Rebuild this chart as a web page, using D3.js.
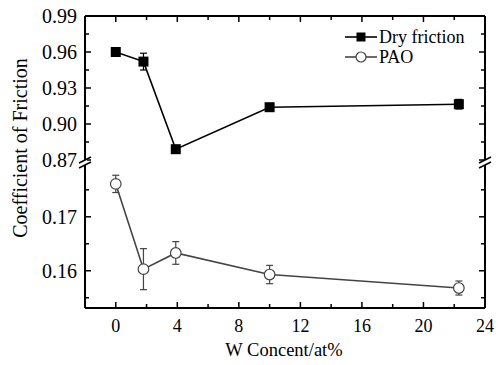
<!DOCTYPE html>
<html>
<head>
<meta charset="utf-8">
<script src="https://cdn.jsdelivr.net/npm/d3@7.9.0/dist/d3.min.js"></script>
<style>
  body { margin: 0; background: #fff; }
  svg { display: block; font-family: "Liberation Serif", "Times New Roman", serif; }
</style>
</head>
<body>
<div id="chart"></div>
<script>
// data
const wConc = [0, 1.8, 3.9, 10, 22.3];
const dryCof = [0.960, 0.952, 0.879, 0.914, 0.9165];
const dryErr = [0.001, 0.007, 0.001, 0.002, 0.004];
const paoCof = [0.1761, 0.1603, 0.1633, 0.1593, 0.1568];
const paoErr = [0.0016, 0.0038, 0.0021, 0.0017, 0.0013];

const xTicks = [0, 4, 8, 12, 16, 20, 24];
const upperTicks = [0.87, 0.90, 0.93, 0.96, 0.99];
const lowerTicks = [0.16, 0.17];
const seriesNames = ['Dry friction', 'PAO'];

const W = 501, H = 365;
const plotL = 85, plotR = 485, plotT = 16, plotB = 308;
const breakY = 162.5;

const svg = d3.select('#chart').append('svg')
  .attr('width', W).attr('height', H);

const x = d3.scaleLinear().domain([-2, 24]).range([plotL, plotR]);
const yUp = d3.scaleLinear().domain([0.87, 0.99]).range([160, plotT]);
const yLo = d3.scaleLinear().domain([0.1531, 0.1796]).range([plotB, 165]);

const dry = wConc.map((w, i) => ({ x: w, y: dryCof[i], e: dryErr[i] }));
const pao = wConc.map((w, i) => ({ x: w, y: paoCof[i], e: paoErr[i] }));

// frame
const frame = svg.append('g').attr('stroke', '#000').attr('stroke-width', 2);
frame.append('line').attr('x1', plotL).attr('x2', plotR).attr('y1', plotT).attr('y2', plotT);
frame.append('line').attr('x1', plotL).attr('x2', plotR).attr('y1', plotB).attr('y2', plotB);
frame.append('line').attr('x1', plotL).attr('x2', plotL).attr('y1', plotT).attr('y2', plotB);
frame.append('line').attr('x1', plotR).attr('x2', plotR).attr('y1', plotT).attr('y2', plotB);

// ticks (inward)
const tickG = svg.append('g').attr('stroke', '#000').attr('stroke-width', 1.5);
const xMinor = d3.range(-2, 24.01, 2);
xMinor.forEach(v => {
  const len = xTicks.includes(v) ? 6 : 4;
  tickG.append('line').attr('x1', x(v)).attr('x2', x(v)).attr('y1', plotB).attr('y2', plotB - len);
  tickG.append('line').attr('x1', x(v)).attr('x2', x(v)).attr('y1', plotT).attr('y2', plotT + len);
});
const upMinor = d3.range(0.87, 0.9901, 0.015).map(v => +v.toFixed(3));
upMinor.forEach(v => {
  const len = upperTicks.some(t => Math.abs(t - v) < 1e-6) ? 6 : 4;
  tickG.append('line').attr('x1', plotL).attr('x2', plotL + len).attr('y1', yUp(v)).attr('y2', yUp(v));
  tickG.append('line').attr('x1', plotR).attr('x2', plotR - len).attr('y1', yUp(v)).attr('y2', yUp(v));
});
const loMinor = [0.155, 0.16, 0.165, 0.17, 0.175];
loMinor.forEach(v => {
  const len = lowerTicks.includes(v) ? 6 : 4;
  tickG.append('line').attr('x1', plotL).attr('x2', plotL + len).attr('y1', yLo(v)).attr('y2', yLo(v));
  tickG.append('line').attr('x1', plotR).attr('x2', plotR - len).attr('y1', yLo(v)).attr('y2', yLo(v));
});

// tick labels
svg.append('g').selectAll('text').data(xTicks).join('text')
  .attr('x', d => x(d)).attr('y', 332)
  .attr('text-anchor', 'middle').attr('font-size', 18)
  .text(d => d);
svg.append('g').selectAll('text').data(upperTicks).join('text')
  .attr('x', 77).attr('y', d => yUp(d) + 7)
  .attr('text-anchor', 'end').attr('font-size', 20)
  .text(d => d.toFixed(2));
svg.append('g').selectAll('text').data(lowerTicks).join('text')
  .attr('x', 77).attr('y', d => yLo(d) + 7)
  .attr('text-anchor', 'end').attr('font-size', 20)
  .text(d => d.toFixed(2));

// axis break marks
[plotL, plotR].forEach(ax => {
  svg.append('rect').attr('x', ax - 2).attr('y', breakY - 2.5).attr('width', 4).attr('height', 5).attr('fill', '#fff');
  [-2.5, 2.5].forEach(dy => {
    svg.append('line')
      .attr('x1', ax - 6).attr('y1', breakY + dy + 3)
      .attr('x2', ax + 6).attr('y2', breakY + dy - 3)
      .attr('stroke', '#000').attr('stroke-width', 1.5);
  });
});

// axis titles
svg.append('text').attr('x', 284).attr('y', 356)
  .attr('text-anchor', 'middle').attr('font-size', 18.5)
  .text('W Concent/at%');
svg.append('text').attr('transform', 'translate(27,148) rotate(-90)')
  .attr('text-anchor', 'middle').attr('font-size', 20)
  .text('Coefficient of Friction');

// series drawing
function drawSeries(data, yScale, color, marker) {
  const g = svg.append('g');
  g.append('path').datum(data)
    .attr('fill', 'none').attr('stroke', color).attr('stroke-width', 1.6)
    .attr('d', d3.line().x(d => x(d.x)).y(d => yScale(d.y)));
  const eb = g.append('g').attr('stroke', color).attr('stroke-width', 1.2);
  data.forEach(d => {
    const y1 = yScale(d.y + d.e), y2 = yScale(d.y - d.e), cx = x(d.x);
    eb.append('line').attr('x1', cx).attr('x2', cx).attr('y1', y1).attr('y2', y2);
    eb.append('line').attr('x1', cx - 3.5).attr('x2', cx + 3.5).attr('y1', y1).attr('y2', y1);
    eb.append('line').attr('x1', cx - 3.5).attr('x2', cx + 3.5).attr('y1', y2).attr('y2', y2);
  });
  data.forEach(d => marker(g, x(d.x), yScale(d.y)));
}
const square = (g, cx, cy) => g.append('rect')
  .attr('x', cx - 5).attr('y', cy - 5).attr('width', 10).attr('height', 10).attr('fill', '#000');
const circle = (g, cx, cy) => g.append('circle')
  .attr('cx', cx).attr('cy', cy).attr('r', 5.3)
  .attr('fill', '#fff').attr('stroke', '#444').attr('stroke-width', 1.2);

drawSeries(dry, yUp, '#000', square);
drawSeries(pao, yLo, '#444', circle);

// legend
const legend = svg.append('g');
const legRows = [
  { name: seriesNames[0], y: 37, color: '#000', filled: true },
  { name: seriesNames[1], y: 57, color: '#444', filled: false }
];
legRows.forEach(r => {
  legend.append('line').attr('x1', 345).attr('x2', 377).attr('y1', r.y).attr('y2', r.y)
    .attr('stroke', r.color).attr('stroke-width', 1.6);
  if (r.filled) {
    legend.append('rect').attr('x', 356.5).attr('y', r.y - 4.5).attr('width', 9).attr('height', 9).attr('fill', '#000');
  } else {
    legend.append('circle').attr('cx', 361).attr('cy', r.y).attr('r', 5)
      .attr('fill', '#fff').attr('stroke', '#444').attr('stroke-width', 1.2);
  }
  legend.append('text').attr('x', 379).attr('y', r.y + 6).attr('font-size', 18).text(r.name);
});
</script>
</body>
</html>
